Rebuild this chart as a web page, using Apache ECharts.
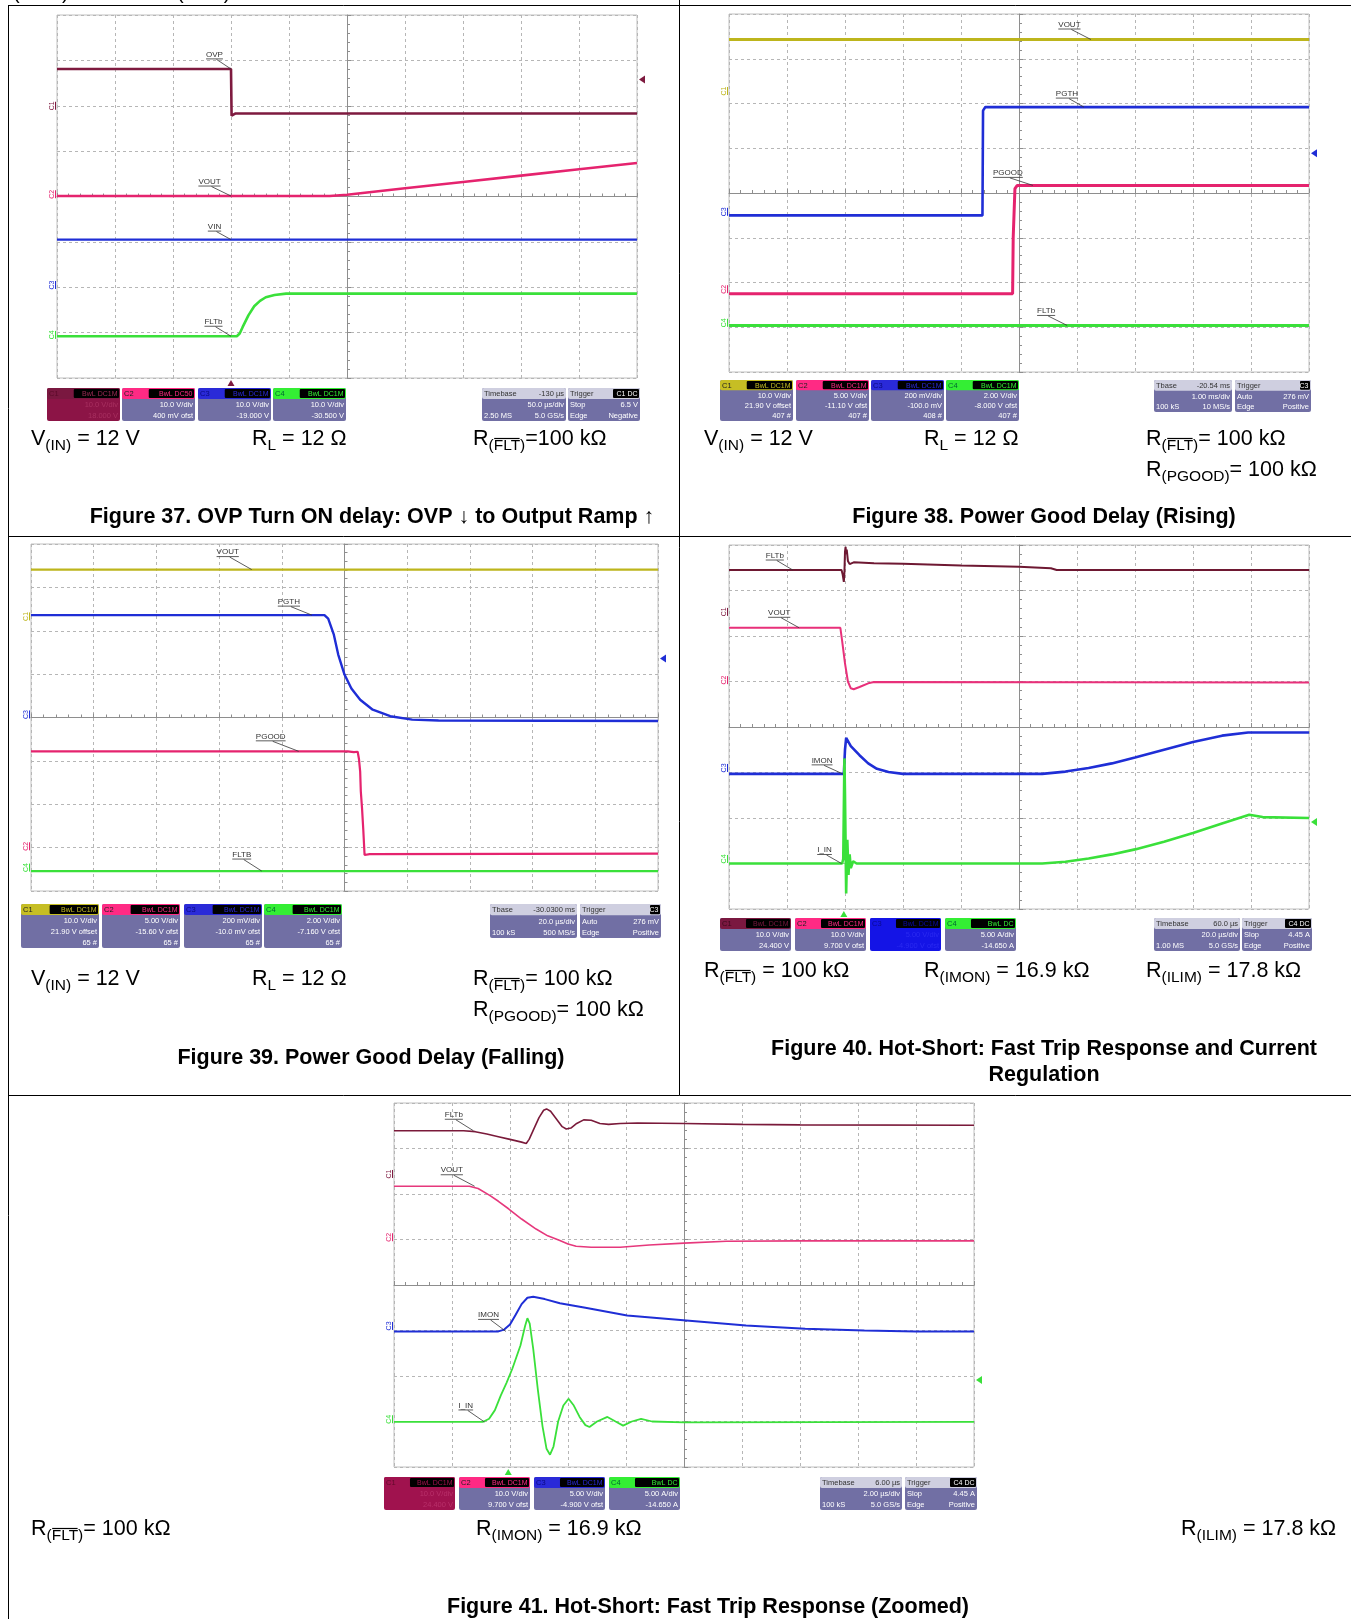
<!DOCTYPE html>
<html><head><meta charset="utf-8">
<script src="https://cdn.jsdelivr.net/npm/echarts@6/dist/echarts.min.js"></script>
<style>html,body{margin:0;padding:0;background:#fff;}#c{width:1351px;height:1619px;}</style>
</head><body><div id="c"></div>
<script>
// ---------- DATA (x: screen divisions 0..10 from left, y: divisions 0..8 from top) ----------
// Figure 37
const f37_OVP  = [[0,1.19],[3.0,1.19],[3.01,2.22],[3.08,2.17],[10,2.17]];
const f37_VOUT = [[0,3.99],[4.7,3.99],[5.0,3.96],[5.5,3.89],[6,3.82],[7,3.68],[8,3.54],[9,3.40],[10,3.26]];
const f37_VIN  = [[0,4.95],[10,4.95]];
const f37_FLT  = [[0,7.08],[3.1,7.08],[3.15,7.02],[3.2,6.88],[3.3,6.62],[3.4,6.42],[3.5,6.3],[3.6,6.22],[3.75,6.17],[3.95,6.14],[10,6.14]];
// Figure 38
const f38_VOUT = [[0,0.57],[10,0.57]];
const f38_PGTH = [[0,4.50],[4.37,4.50],[4.38,2.16],[4.42,2.08],[10,2.08]];
const f38_PGOOD= [[0,6.25],[4.89,6.25],[4.9,5.0],[4.93,3.9],[4.97,3.83],[10,3.83]];
const f38_FLT  = [[0,6.96],[10,6.96]];
// Figure 39
const f39_VOUT = [[0,0.59],[10,0.59]];
const f39_PGTH = [[0,1.64],[4.68,1.64],[4.74,1.72],[4.83,2.09],[4.90,2.55],[5.0,3.01],[5.11,3.33],[5.25,3.59],[5.45,3.82],[5.73,3.97],[6.08,4.05],[6.5,4.07],[10,4.08]];
const f39_PGOOD= [[0,4.78],[5.05,4.78],[5.15,4.8],[5.21,4.79],[5.23,4.95],[5.25,5.25],[5.26,5.7],[5.28,6.1],[5.30,6.6],[5.32,7.17],[5.4,7.15],[10,7.14]];
const f39_FLT  = [[0,7.54],[10,7.54]];
// Figure 40
const f40_FLT  = [[0,0.55],[1.94,0.55],[1.96,0.65],[1.98,0.81],[1.99,0.6],[2.0,0.15],[2.01,0.04],[2.02,0.2],[2.03,0.1],[2.05,0.35],[2.08,0.42],[2.15,0.38],[2.5,0.40],[3.0,0.41],[4.0,0.45],[5.0,0.48],[5.55,0.51],[5.65,0.55],[10,0.55]];
const f40_VOUT = [[0,1.82],[1.92,1.82],[1.95,2.1],[2.0,2.6],[2.05,3.0],[2.1,3.15],[2.15,3.17],[2.25,3.12],[2.4,3.04],[2.5,3.01],[10,3.02]];
const f40_IMON = [[0,5.03],[1.98,5.03],[2.0,4.5],[2.02,4.24],[2.1,4.42],[2.25,4.62],[2.4,4.8],[2.55,4.92],[2.75,4.99],[3.0,5.03],[5.4,5.03],[5.8,4.98],[6.2,4.9],[6.6,4.8],[7.0,4.67],[7.5,4.5],[8.0,4.33],[8.5,4.19],[8.95,4.12],[10,4.12]];
const f40_IIN  = [[0,7.0],[1.95,7.0],[1.97,6.9],[1.99,4.69],[2.0,5.5],[2.02,7.66],[2.04,6.48],[2.06,7.25],[2.08,6.8],[2.1,7.1],[2.14,6.95],[2.2,7.0],[5.4,7.0],[5.8,6.96],[6.2,6.89],[6.6,6.8],[7.0,6.69],[7.5,6.52],[8.0,6.33],[8.5,6.12],[8.97,5.93],[9.2,5.98],[10,6.0]];
// Figure 41
const f41_FLT  = [[0,0.61],[1.2,0.61],[1.4,0.63],[1.6,0.68],[1.8,0.74],[2.0,0.8],[2.2,0.86],[2.28,0.89],[2.33,0.8],[2.4,0.6],[2.5,0.32],[2.58,0.16],[2.63,0.13],[2.7,0.18],[2.8,0.35],[2.9,0.52],[2.97,0.57],[3.05,0.55],[3.15,0.45],[3.27,0.37],[3.4,0.38],[3.55,0.45],[3.7,0.47],[3.9,0.45],[4.2,0.44],[5,0.45],[6,0.47],[7,0.48],[10,0.49]];
const f41_VOUT = [[0,1.83],[1.3,1.83],[1.45,1.88],[1.65,2.03],[1.8,2.16],[1.98,2.33],[2.2,2.55],[2.45,2.77],[2.65,2.92],[2.86,3.02],[3.0,3.1],[3.14,3.15],[3.4,3.17],[3.9,3.17],[4.4,3.12],[5.0,3.08],[5.73,3.04],[7,3.03],[10,3.03]];
const f41_IMON = [[0,5.02],[1.8,5.02],[1.9,4.98],[2.0,4.87],[2.1,4.65],[2.2,4.42],[2.3,4.28],[2.4,4.26],[2.6,4.31],[2.86,4.4],[3.3,4.5],[4.02,4.67],[5.04,4.78],[6.07,4.89],[7.09,4.96],[8.11,5.0],[9,5.02],[10,5.02]];
const f41_IIN  = [[0,7.01],[1.53,7.01],[1.64,6.94],[1.74,6.75],[1.84,6.43],[1.94,6.15],[2.04,5.84],[2.18,5.33],[2.26,4.9],[2.30,4.73],[2.34,4.85],[2.4,5.4],[2.48,6.3],[2.56,7.1],[2.63,7.6],[2.69,7.73],[2.75,7.55],[2.83,7.0],[2.92,6.65],[3.01,6.5],[3.1,6.65],[3.2,6.9],[3.3,7.08],[3.37,7.12],[3.5,7.0],[3.68,6.9],[3.82,7.0],[3.95,7.09],[4.1,7.0],[4.26,6.94],[4.45,7.0],[5,7.02],[10,7.01]];

// trace labels: [grid, anchorX, anchorY, text, dx, dy]
const traceLabels = [
  [0,3.0,1.19,'OVP',-16.5,-14.6],[0,3.0,3.99,'VOUT',-21.5,-14.5],[0,3.0,4.95,'VIN',-16.5,-13],[0,3.0,7.08,'FLTb',-17.5,-14.5],
  [1,6.24,0.57,'VOUT',-21.5,-15],[1,6.12,2.08,'PGTH',-17,-13.5],[1,5.24,3.83,'PGOOD',-25,-12.5],[1,5.83,6.96,'FLTb',-21,-14.5],
  [2,3.52,0.59,'VOUT',-24,-17.5],[2,4.48,1.64,'PGTH',-23,-13.5],[2,4.27,4.78,'PGOOD',-28,-15],[2,3.68,7.54,'FLTB',-20,-16.5],
  [3,1.10,0.55,'FLTb',-18,-14.5],[3,1.21,1.82,'VOUT',-20,-15],[3,1.96,5.03,'IMON',-20.6,-13.5],[3,1.94,7.0,'I_IN',-17,-13.5],
  [4,1.37,0.61,'FLTb',-19.6,-16],[4,1.39,1.83,'VOUT',-22.8,-16],[4,1.93,5.02,'IMON',-17.4,-16.5],[4,1.56,7.01,'I_IN',-18.7,-16.5]
];
// channel offset markers: [grid, ch, yDiv]
const chMarkers = [
  [0,'C1',2.0],[0,'C2',3.95],[0,'C3',5.95],[0,'C4',7.05],
  [1,'C1',1.72],[1,'C3',4.42],[1,'C2',6.15],[1,'C4',6.9],
  [2,'C1',1.67],[2,'C3',3.93],[2,'C2',6.97],[2,'C4',7.46],
  [3,'C1',1.47],[3,'C2',2.97],[3,'C3',4.9],[3,'C4',6.9],
  [4,'C1',1.56],[4,'C2',2.95],[4,'C3',4.9],[4,'C4',6.95]
];
// trigger level markers (right side): [grid, yDiv, colorKey]; trigger time markers: [grid, xDiv, colorKey]
const trigLevel = [[0,1.42,'m'],[1,3.11,'b'],[2,2.64,'b'],[3,6.09,'g'],[4,6.09,'g']];
const trigTime = [[0,3.0,'m'],[3,1.98,'g'],[4,1.97,'g']];

// readout boxes
const f37Ch = [['C1','BwL DC1M',['10.0 V/div','18.000 V']],['C2','BwL DC50',['10.0 V/div','400 mV ofst']],['C3','BwL DC1M',['10.0 V/div','-19.000 V']],['C4','BwL DC1M',['10.0 V/div','-30.500 V']]];
const f37Tb = [['Timebase','-130 µs'],[['','50.0 µs/div'],['2.50 MS','5.0 GS/s']]];
const f37Tr = [['Trigger','C1 DC'],[['Stop','6.5 V'],['Edge','Negative']]];
const f38Ch = [['C1','BwL DC1M',['10.0 V/div','21.90 V offset','407 #']],['C2','BwL DC1M',['5.00 V/div','-11.10 V ofst','407 #']],['C3','BwL DC1M',['200 mV/div','-100.0 mV','408 #']],['C4','BwL DC1M',['2.00 V/div','-8.000 V ofst','407 #']]];
const f38Tb = [['Tbase','-20.54 ms'],[['','1.00 ms/div'],['100 kS','10 MS/s']]];
const f38Tr = [['Trigger','C3'],[['Auto','276 mV'],['Edge','Positive']]];
const f39Ch = [['C1','BwL DC1M',['10.0 V/div','21.90 V offset','65 #']],['C2','BwL DC1M',['5.00 V/div','-15.60 V ofst','65 #']],['C3','BwL DC1M',['200 mV/div','-10.0 mV ofst','65 #']],['C4','BwL DC1M',['2.00 V/div','-7.160 V ofst','65 #']]];
const f39Tb = [['Tbase','-30.0300 ms'],[['','20.0 µs/div'],['100 kS','500 MS/s']]];
const f39Tr = [['Trigger','C3'],[['Auto','276 mV'],['Edge','Positive']]];
const f40Ch = [['C1','BwL DC1M',['10.0 V/div','24.400 V']],['C2','BwL DC1M',['10.0 V/div','9.700 V ofst']],['C3','BwL DC1M',['5.00 V/div','-4.900 V ofst']],['C4','BwL DC',['5.00 A/div','-14.650 A']]];
const f40Tb = [['Timebase','60.0 µs'],[['','20.0 µs/div'],['1.00 MS','5.0 GS/s']]];
const f40Tr = [['Trigger','C4 DC'],[['Slop','4.45 A'],['Edge','Positive']]];
const f41Ch = [['C1','BwL DC1M',['10.0 V/div','24.400 V']],['C2','BwL DC1M',['10.0 V/div','9.700 V ofst']],['C3','BwL DC1M',['5.00 V/div','-4.900 V ofst']],['C4','BwL DC',['5.00 A/div','-14.650 A']]];
const f41Tb = [['Timebase','6.00 µs'],[['','2.00 µs/div'],['100 kS','5.0 GS/s']]];
const f41Tr = [['Trigger','C4 DC'],[['Slop','4.45 A'],['Edge','Positive']]];

// captions
const captions = [
  ['Figure 37. OVP Turn ON delay: OVP ↓ to Output Ramp ↑'],
  ['Figure 38. Power Good Delay (Rising)'],
  ['Figure 39. Power Good Delay (Falling)'],
  ['Figure 40. Hot-Short: Fast Trip Response and Current','Regulation'],
  ['Figure 41. Hot-Short: Fast Trip Response (Zoomed)']
];

// ---------- STYLE / LAYOUT ----------
const FONT = '"Liberation Sans", Arial, Helvetica, sans-serif';
const NFONT = '"Liberation Sans Narrow", "Liberation Sans", Arial, sans-serif';
const CC = {m:'#7e1a3f', y:'#bdb51c', p:'#e5236e', b:'#1f2ed6', g:'#3ae03a'};
const HC = {C1m:'#7a1840', C1y:'#c6be24', C2:'#ff2a84', C3:'#2a2ad8', C4:'#34ee34'};
const BODY = '#716fa4';
const grids = [
  {left:57, top:15, width:580, height:363},
  {left:729, top:14, width:580, height:358},
  {left:31, top:544, width:627, height:347},
  {left:729, top:545, width:580, height:364},
  {left:394, top:1103, width:580, height:364}
];
const chColorByGrid = [
  {C1:CC.m,C2:CC.p,C3:CC.b,C4:CC.g},
  {C1:CC.y,C2:CC.p,C3:CC.b,C4:CC.g},
  {C1:CC.y,C2:CC.p,C3:CC.b,C4:CC.g},
  {C1:CC.m,C2:CC.p,C3:CC.b,C4:CC.g},
  {C1:CC.m,C2:CC.p,C3:CC.b,C4:CC.g}
];

const traces = [
  [0,f37_OVP,CC.m,2.6],[0,f37_VOUT,CC.p,2.6],[0,f37_VIN,CC.b,2.4],[0,f37_FLT,CC.g,2.6],
  [1,f38_VOUT,CC.y,3],[1,f38_PGTH,CC.b,2.6],[1,f38_PGOOD,CC.p,3],[1,f38_FLT,CC.g,3],
  [2,f39_VOUT,CC.y,2.4],[2,f39_PGTH,CC.b,2.4],[2,f39_PGOOD,CC.p,2.2],[2,f39_FLT,CC.g,2.2],
  [3,f40_FLT,'#6e1832',2],[3,f40_VOUT,'#e8307a',2],[3,f40_IMON,CC.b,2.6],[3,f40_IIN,CC.g,2.6],
  [4,f41_FLT,'#7a1a3a',1.6],[4,f41_VOUT,'#e6387c',1.6],[4,f41_IMON,CC.b,2],[4,f41_IIN,CC.g,1.8]
];

const gridCol = '#b6b6b6', centerCol = '#8e8e8e';
const option = {
  backgroundColor:'#fff', animation:false,
  grid: grids.map(g=>Object.assign({show:true, borderColor:'#c0c0c0', borderWidth:1, backgroundColor:'#fff'}, g)),
  xAxis: grids.map((g,i)=>({gridIndex:i, type:'value', min:-5, max:5, interval:1,
    axisLine:{show:true, onZero:true, lineStyle:{color:centerCol, width:1}},
    axisTick:{show:true, inside:true, length:4, lineStyle:{color:centerCol}},
    minorTick:{show:true, splitNumber:5, length:3, lineStyle:{color:centerCol}},
    axisLabel:{show:false},
    splitLine:{show:true, lineStyle:{color:gridCol, type:[3,3], width:1}}})),
  yAxis: grids.map((g,i)=>({gridIndex:i, type:'value', min:-4, max:4, interval:1,
    axisLine:{show:true, onZero:true, lineStyle:{color:centerCol, width:1}},
    axisTick:{show:true, inside:true, length:4, lineStyle:{color:centerCol}},
    minorTick:{show:true, splitNumber:5, length:3, lineStyle:{color:centerCol}},
    axisLabel:{show:false},
    splitLine:{show:true, lineStyle:{color:gridCol, type:[3,3], width:1}}})),
  series: traces.map(([g,d,c,w])=>({type:'line', xAxisIndex:g, yAxisIndex:g, symbol:'none', silent:true,
    data:d.map(p=>[p[0]-5, 4-p[1]]), lineStyle:{color:c, width:w}, itemStyle:{color:c}, z:3}))
};

const chart = echarts.init(document.getElementById('c'), null, {renderer:'canvas'});
chart.setOption(option);

// ---------- GRAPHICS ----------
const mctx = document.createElement('canvas').getContext('2d');
function tw(t,size,bold,fam){ mctx.font=(bold?'bold ':'')+size+'px '+(fam||FONT); return mctx.measureText(t).width; }
const G = [];
function T(x,y,t,o){ o=o||{}; G.push({type:'text', x:x, y:y, rotation:o.rot||0, silent:true, z:100,
  style:{text:t, fontSize:o.size||12, fontFamily:o.fam||FONT, fontWeight:o.bold?'bold':'normal', fill:o.color||'#000', align:o.align||'left', verticalAlign:o.va||'middle'}}); }
function L(x1,y1,x2,y2,c,w){ G.push({type:'line', silent:true, z:100, shape:{x1:x1,y1:y1,x2:x2,y2:y2}, style:{stroke:c||'#000', lineWidth:w||1}}); }
function R(x,y,w,h,c,r){ G.push({type:'rect', silent:true, z:99, shape:{x:x,y:y,width:w,height:h,r:r||0}, style:{fill:c}}); }
function P(pts,c){ G.push({type:'polygon', silent:true, z:100, shape:{points:pts}, style:{fill:c}}); }

// table lines
L(8,5.5,1351,5.5); L(8.5,5,8.5,1619); L(679.5,0,679.5,1095.5); L(8,536.5,1351,536.5); L(8,1095.5,1351,1095.5);
// cut-off text from previous page area
T(13,-7,'(OUT)',{size:20}); T(177,-7,'(SYS)',{size:20});

// equation line: parts [text, kind]  n=normal, s=subscript, o=subscript with overline
const MAIN=21.5, SUB=15.5;
function eq(x,y,parts){
  let cx=x;
  parts.forEach(([t,k])=>{
    const sub=k!=='n', size=sub?SUB:MAIN, dy=sub?7:0, w=tw(t,size);
    T(cx,y+dy,t,{size:size});
    if(k==='o') L(cx+0.5,y+dy-7.5,cx+w-0.5,y+dy-7.5,'#000',1.2);
    cx+=w;
  });
}
const VIN=[['V','n'],['(IN)','s'],[' = 12 V','n']];
const RL=[['R','n'],['L','s'],[' = 12 Ω','n']];
const RFLT=(s)=>[['R','n'],['(','s'],['FLT','o'],[')','s'],[s,'n']];
const RPG=[['R','n'],['(PGOOD)','s'],['= 100 kΩ','n']];
const RIMON=[['R','n'],['(IMON)','s'],[' = 16.9 kΩ','n']];
const RILIM=[['R','n'],['(ILIM)','s'],[' = 17.8 kΩ','n']];
eq(31,439,VIN); eq(252,439,RL); eq(473,439,RFLT('=100 kΩ'));
eq(704,439,VIN); eq(924,439,RL); eq(1146,439,RFLT('= 100 kΩ')); eq(1146,470,RPG);
eq(31,979,VIN); eq(252,979,RL); eq(473,979,RFLT('= 100 kΩ')); eq(473,1010,RPG);
eq(704,971,RFLT(' = 100 kΩ')); eq(924,971,RIMON); eq(1146,971,RILIM);
eq(31,1529,RFLT('= 100 kΩ')); eq(476,1529,RIMON); eq(1181,1529,RILIM);

// captions
const capPos=[[372,517],[1044,517],[371,1058],[1044,1049],[708,1607]];
captions.forEach((c,i)=>c.forEach((line,j)=>T(capPos[i][0],capPos[i][1]+j*26,line,{size:21.5,bold:true,align:'center'})));

// readout boxes
function box(x,y,w,h,hdrColor,bodyColor,lab,labC,badge,badgeC,badgeW,hdrRight,rows,tc){
  const n=rows.length+1, rh=h/n;
  R(x,y,w,h,bodyColor,2);
  R(x,y,w,rh,hdrColor,2);
  if(lab) T(x+2,y+rh/2+0.5,lab,{size:7.5,color:labC,fam:NFONT});
  if(badge){ R(x+w-badgeW-1,y+1,badgeW,rh-2,'#000',1); T(x+w-2.5,y+rh/2+0.5,badge,{size:7,color:badgeC,align:'right',fam:NFONT}); }
  if(hdrRight) T(x+w-2,y+rh/2+0.5,hdrRight,{size:7.5,color:'#333',align:'right',fam:NFONT});
  rows.forEach((r,i)=>{ const cy=y+rh*(i+1.5)+0.5;
    if(r[0]) T(x+2,cy,r[0],{size:7.5,color:tc,fam:NFONT});
    if(r[1]) T(x+w-2,cy,r[1],{size:7.5,color:tc,align:'right',fam:NFONT}); });
}
// styles per channel box: [hdr, body, labColor, badgeTextColor, textColor]
function chBoxes(list,xs,y,w,h,styles){
  list.forEach((c,i)=>{ const s=styles[i];
    box(xs[i],y,w,h,s[0],s[1],c[0],s[2],c[1],s[3],w*0.62,null,c[2].map(t=>['',t]),s[4]); });
}
const sM=[HC.C1m,BODY,'#3a0a1a',HC.C1m,'#fff'], sMfull=[HC.C1m,'#8c1446','#5a0a28','#9c2a55','#a83060'];
const sY=[HC.C1y,BODY,'#222',HC.C1y,'#fff'], sP=[HC.C2,BODY,'#222','#ff2a84','#fff'];
const sB=[HC.C3,BODY,'#0a0a80','#2a2ad8','#fff'], sBfull=['#1414e6','#1414e6','#0a0a90','#0a0aa0','#2a2af0'];
const sG=[HC.C4,BODY,'#063','#34ee34','#fff'], sCrim=['#a0124e','#a0124e','#600a2a','#a0124e','#b8306a'];
function tbBoxes(tb,tr,x1,w1,x2,w2,y,h){
  box(x1,y,w1,h,'#cfcfe0',BODY,tb[0][0],'#333',null,null,0,tb[0][1],tb[1],'#fff');
  const bw=tr[0][1].length>3?26:10;
  box(x2,y,w2,h,'#cfcfe0',BODY,tr[0][0],'#333',tr[0][1],'#fff',bw,null,tr[1],'#fff');
}
chBoxes(f37Ch,[47,122,198,273],388,73,33,[sMfull,sP,sB,sG]);
tbBoxes(f37Tb,f37Tr,482,84,568,72,388,33);
chBoxes(f38Ch,[720,796,871,946],380,73,41,[sY,sP,sB,sG]);
tbBoxes(f38Tb,f38Tr,1154,78,1235,76,380,32);
chBoxes(f39Ch,[21,102,184,264],904,78,44,[sY,sP,sB,sG]);
tbBoxes(f39Tb,f39Tr,490,87,580,81,904,34);
chBoxes(f40Ch,[720,795,870,945],918,71,33,[sM,sP,sBfull,sG]);
tbBoxes(f40Tb,f40Tr,1154,86,1242,70,918,33);
chBoxes(f41Ch,[384,459,534,609],1477,71,33,[sCrim,sP,sB,sG]);
tbBoxes(f41Tb,f41Tr,820,82,905,72,1477,33);

// channel markers on left edge
chMarkers.forEach(([g,ch,d])=>{
  const gr=grids[g], y=gr.top+d*gr.height/8, x=gr.left-5, col=chColorByGrid[g][ch];
  T(x,y,ch,{size:7,color:col,rot:Math.PI/2,align:'center',fam:NFONT});
  L(x+3.5,y-4,x+3.5,y+4,col,1);
});
const mk={m:CC.m,b:CC.b,g:CC.g};
trigLevel.forEach(([g,d,c])=>{ const gr=grids[g], y=gr.top+d*gr.height/8, x=gr.left+gr.width+2;
  P([[x,y],[x+6,y-4],[x+6,y+4]],mk[c]); });
trigTime.forEach(([g,xd,c])=>{ const gr=grids[g], x=gr.left+xd*gr.width/10, y=gr.top+gr.height+2;
  P([[x,y],[x-3.5,y+6],[x+3.5,y+6]],mk[c]); });

// trace labels with leaders
traceLabels.forEach(([g,ax,ay,t,dx,dy])=>{
  const p=chart.convertToPixel({gridIndex:g},[ax-5,4-ay]);
  const tx=p[0]+dx, ty=p[1]+dy, w=tw(t,8,false,NFONT);
  T(tx,ty,t,{size:8,color:'#333',align:'center',fam:NFONT});
  L(tx-w/2,ty+4.5,tx+w/2,ty+4.5,'#333',0.8);
  L(tx+2,ty+5,p[0],p[1],'#333',0.8);
});

chart.setOption({graphic:{elements:G}});
</script></body></html>
